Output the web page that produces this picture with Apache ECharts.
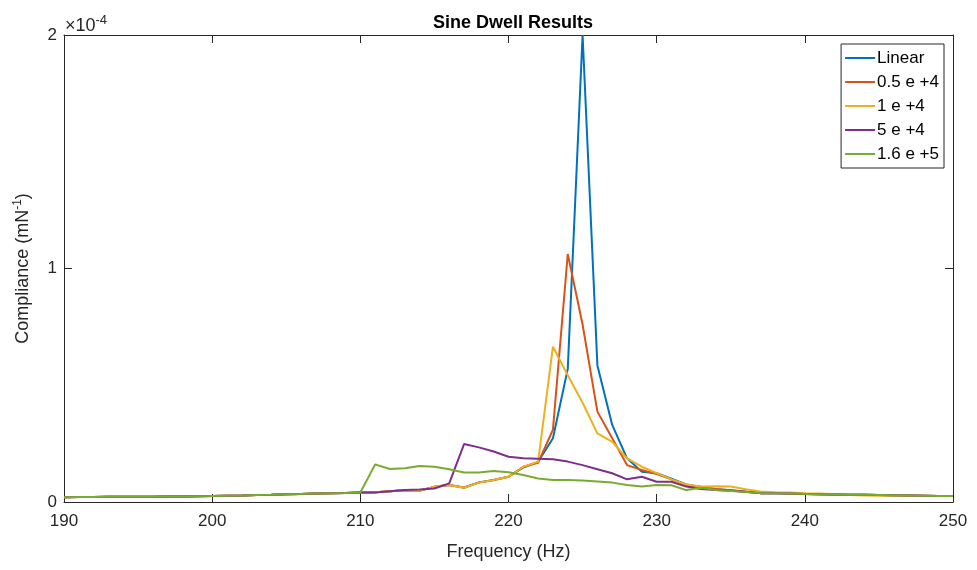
<!DOCTYPE html>
<html>
<head>
<meta charset="utf-8">
<script src="https://cdn.jsdelivr.net/npm/echarts@6/dist/echarts.min.js"></script>
<style>html,body{margin:0;padding:0;background:#fff}#c{width:977px;height:570px}</style>
</head>
<body>
<div id="c"></div>
<script>
// Frequency (Hz)
var freqs = [190,191,192,193,194,195,196,197,198,199,200,201,202,203,204,205,206,207,208,209,210,
  211,212,213,214,215,216,217,218,219,220,221,222,223,224,225,226,227,228,229,230,
  231,232,233,234,235,236,237,238,239,240,241,242,243,244,245,246,247,248,249,250];
// Compliance values in units of 1e-4 mN^-1
var linear = [0.020,0.021,0.021,0.022,0.022,0.023,0.023,0.024,0.024,0.025,0.026,0.027,0.028,0.030,0.031,0.033,0.034,0.036,0.038,0.039,0.041,
  0.042,0.046,0.050,0.049,0.064,0.073,0.062,0.084,0.094,0.108,0.148,0.172,0.273,0.570,2.000,0.585,0.330,0.187,0.130,0.123,
  0.100,0.075,0.064,0.055,0.050,0.044,0.038,0.037,0.036,0.034,0.033,0.032,0.031,0.031,0.030,0.029,0.028,0.027,0.026,0.026];
var e05p4 = [0.020,0.021,0.021,0.022,0.022,0.023,0.023,0.024,0.024,0.025,0.026,0.027,0.028,0.030,0.031,0.033,0.034,0.036,0.038,0.039,0.041,
  0.042,0.046,0.050,0.048,0.066,0.073,0.061,0.083,0.094,0.108,0.151,0.168,0.310,1.062,0.760,0.387,0.273,0.158,0.137,0.120,
  0.097,0.073,0.064,0.056,0.050,0.044,0.038,0.037,0.036,0.034,0.033,0.032,0.031,0.031,0.030,0.029,0.028,0.027,0.026,0.026];
var e1p4 = [0.020,0.021,0.021,0.022,0.022,0.023,0.023,0.024,0.024,0.025,0.026,0.027,0.028,0.030,0.031,0.033,0.034,0.036,0.038,0.039,0.041,
  0.042,0.046,0.050,0.048,0.066,0.073,0.061,0.083,0.094,0.108,0.151,0.173,0.665,0.543,0.425,0.294,0.258,0.187,0.151,0.124,
  0.097,0.075,0.066,0.067,0.066,0.055,0.045,0.042,0.041,0.038,0.036,0.033,0.030,0.028,0.027,0.027,0.027,0.027,0.026,0.026];
var e5p4 = [0.020,0.021,0.021,0.022,0.022,0.023,0.023,0.024,0.024,0.025,0.026,0.027,0.028,0.030,0.031,0.033,0.034,0.036,0.038,0.039,0.041,
  0.041,0.046,0.051,0.054,0.058,0.080,0.248,0.234,0.216,0.194,0.187,0.185,0.183,0.173,0.158,0.140,0.123,0.097,0.108,0.087,
  0.087,0.066,0.056,0.051,0.048,0.044,0.038,0.037,0.036,0.034,0.033,0.032,0.031,0.031,0.030,0.029,0.028,0.027,0.026,0.026];
var e16p5 = [0.020,0.021,0.021,0.022,0.022,0.023,0.023,0.024,0.024,0.025,0.026,0.027,0.028,0.030,0.031,0.033,0.034,0.036,0.038,0.039,0.041,
  0.161,0.141,0.145,0.154,0.151,0.140,0.126,0.126,0.133,0.127,0.116,0.101,0.094,0.094,0.092,0.088,0.083,0.073,0.066,0.073,
  0.072,0.051,0.061,0.051,0.047,0.043,0.038,0.037,0.036,0.034,0.033,0.032,0.031,0.031,0.030,0.029,0.028,0.027,0.026,0.026];
var seriesNames = ['Linear','0.5 e +4','1 e +4','5 e +4','1.6 e +5'];
var seriesValues = [linear, e05p4, e1p4, e5p4, e16p5];
var colors = ['#0072BD','#D95319','#EDB120','#7E2F8E','#77AC30'];
var xTicks = [190,200,210,220,230,240,250];
var yTicks = [0,1,2];

var FONT = '"Liberation Sans", Arial, sans-serif';
var AX = '#262626';

function pairs(vals){ return freqs.map(function(f,i){ return [f, vals[i]]; }); }

var chart = echarts.init(document.getElementById('c'), null, {renderer:'canvas'});
var option = {
  animation: false,
  backgroundColor: '#fff',
  color: colors,
  title: {
    text: 'Sine Dwell Results', left: 508, top: 9, textAlign: 'center',
    textStyle: {fontFamily: FONT, fontSize: 18, fontWeight: 'bold', color: '#000'}
  },
  grid: {left: 64, right: 24, top: 35, bottom: 68, containLabel: false},
  legend: {
    orient: 'vertical', right: 33, top: 44,
    data: seriesNames,
    icon: 'rect',
    itemWidth: 30, itemHeight: 2, itemGap: 4,
    padding: [4, 5, 4, 4],
    borderColor: AX, borderWidth: 1, backgroundColor: '#fff',
    textStyle: {fontFamily: FONT, fontSize: 17, lineHeight: 20, color: '#000', padding: [0,0,0,-3]}
  },
  xAxis: [{
    type: 'value', min: 190, max: 250, interval: 10,
    name: 'Frequency (Hz)', nameLocation: 'middle', nameGap: 41,
    nameTextStyle: {fontFamily: FONT, fontSize: 18, color: AX},
    axisLine: {show: true, onZero: false, lineStyle: {color: AX, width: 1}},
    axisTick: {show: true, inside: true, length: 8, lineStyle: {color: AX}},
    axisLabel: {fontFamily: FONT, fontSize: 17, color: AX, margin: 11,
      formatter: function(v){ return xTicks.indexOf(v) >= 0 ? String(v) : ''; }},
    splitLine: {show: false}
  }, {
    type: 'value', min: 190, max: 250, interval: 10, position: 'top',
    axisLine: {show: true, onZero: false, lineStyle: {color: AX, width: 1}},
    axisTick: {show: true, inside: true, length: 8, lineStyle: {color: AX}},
    axisLabel: {show: false}, splitLine: {show: false}
  }],
  yAxis: [{
    type: 'value', min: 0, max: 2, interval: 1,
    name: 'Compliance (mN{sup|-1})', nameLocation: 'middle', nameGap: 30,
    nameTextStyle: {fontFamily: FONT, fontSize: 18, color: AX,
      rich: {sup: {fontFamily: FONT, fontSize: 12, color: AX, verticalAlign: 'top', padding: [0,0,10,0]}}},
    axisLine: {show: true, onZero: false, lineStyle: {color: AX, width: 1}},
    axisTick: {show: true, inside: true, length: 8, lineStyle: {color: AX}},
    axisLabel: {fontFamily: FONT, fontSize: 17, color: AX, margin: 7,
      formatter: function(v){ return yTicks.indexOf(v) >= 0 ? String(v) : ''; }},
    splitLine: {show: false}
  }, {
    type: 'value', min: 0, max: 2, interval: 1, position: 'right',
    axisLine: {show: true, onZero: false, lineStyle: {color: AX, width: 1}},
    axisTick: {show: true, inside: true, length: 8, lineStyle: {color: AX}},
    axisLabel: {show: false}, splitLine: {show: false}
  }],
  graphic: [{
    type: 'text', left: 65, top: 14,
    style: {
      text: '×10{s|-4}',
      font: '18px ' + FONT, fill: AX,
      rich: {s: {fontFamily: FONT, fontSize: 13, fill: AX, color: AX, verticalAlign: 'top', padding: [0,0,12,0]}}
    }
  }],
  series: seriesNames.map(function(n, i){
    return {
      name: n, type: 'line', xAxisIndex: 0, yAxisIndex: 0,
      data: pairs(seriesValues[i]),
      symbol: 'none', smooth: false, clip: true,
      lineStyle: {width: 2, color: colors[i]},
      itemStyle: {color: colors[i]}
    };
  })
};
chart.setOption(option);
</script>
</body>
</html>
